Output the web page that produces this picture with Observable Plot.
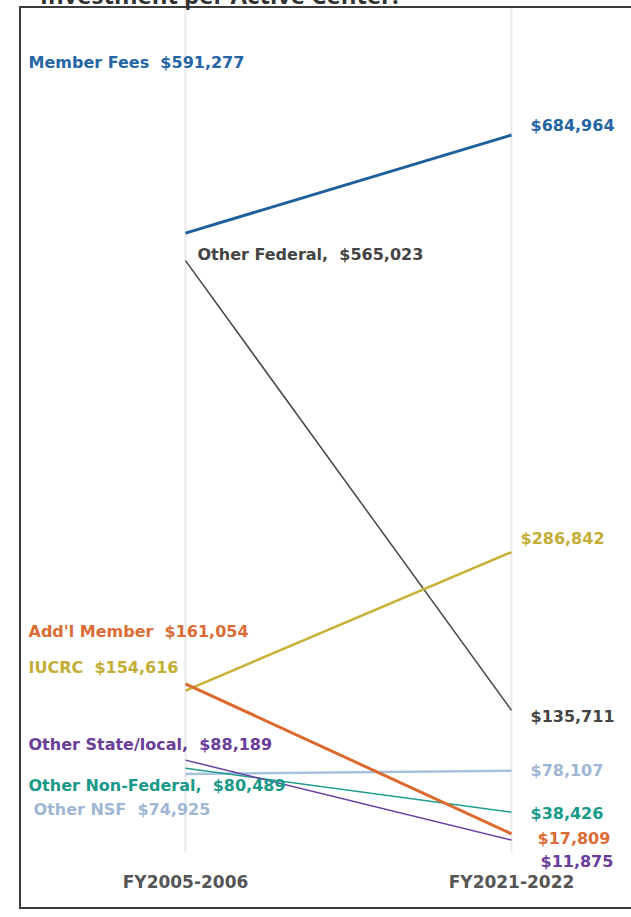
<!DOCTYPE html>
<html><head><meta charset="utf-8">
<script src="https://cdn.jsdelivr.net/npm/d3@7"></script>
<script src="https://cdn.jsdelivr.net/npm/@observablehq/plot@0.6"></script>
<style>
html,body{margin:0;padding:0;background:#fff;width:631px;height:917px;overflow:hidden;position:relative;}
#title{position:absolute;left:40px;top:-17px;font:700 24px/24px "Open Sans";color:#333;white-space:nowrap;}
#frame{position:absolute;left:19px;top:6px;width:700px;height:903px;border:2px solid #3c3c3c;box-sizing:border-box;}
#chart{position:absolute;left:0;top:0;}
</style></head><body>
<div id="frame"></div>
<div id="title">Investment per Active Center:</div>
<div id="chart"></div>
<script>
const periods = ["FY2005-2006", "FY2021-2022"];
const series = ["Other NSF", "Other Non-Federal", "Other State/local", "Other Federal", "IUCRC", "Add'l Member", "Member Fees"];
const startValues = [74925, 80489, 88189, 565023, 154616, 161054, 591277];
const endValues = [78107, 38426, 11875, 135711, 286842, 17809, 684964];
const startLabels = ["Other NSF  $74,925", "Other Non-Federal,  $80,489", "Other State/local,  $88,189", "Other Federal,  $565,023", "IUCRC  $154,616", "Add'l Member  $161,054", "Member Fees  $591,277"];
const endLabels = ["$78,107", "$38,426", "$11,875", "$135,711", "$286,842", "$17,809", "$684,964"];

// styling (kept apart from the data)
const colors = ["#a6c0de", "#1f9e8c", "#6b3fa0", "#444444", "#c9b037", "#dc6a2e", "#1f5f9e"];
const labelColors = ["#9fb7d4", "#19998a", "#6a3d9a", "#444444", "#c4ad35", "#dc6c35", "#2565a4"];
const widths = [2.5, 1.5, 1.5, 1.5, 2.5, 3, 3];
const leftNudge = [[-152, 36], [-157, 18], [-157, -15], [12, -6], [-157, -23], [-157, -52], [-157, -170]];
const rightNudge = [[19, 0], [19, 2], [29, 22], [19, 7], [9, -13], [26, 5], [19, -9]];

const idx = series.map((_, i) => i);
const font = "DejaVu Sans";

const marks = [
  Plot.ruleX(periods, {y1: 0, y2: 805000, stroke: "#e9e9e9", strokeWidth: 2}),
  Plot.axisX({tickSize: 0, tickPadding: 3, fontSize: 17, fontWeight: "bold", fill: "#555", label: null, fontFamily: font}),
  Plot.link(idx, {
    x1: () => periods[0], x2: () => periods[1],
    y1: i => startValues[i], y2: i => endValues[i],
    stroke: i => colors[i], strokeWidth: i => widths[i]
  })
];
idx.forEach(i => {
  marks.push(Plot.text([i], {
    x: () => periods[0], y: () => startValues[i], text: () => startLabels[i],
    dx: leftNudge[i][0], dy: leftNudge[i][1], textAnchor: "start",
    fill: labelColors[i], fontSize: 16, fontWeight: "bold", fontFamily: font
  }));
  marks.push(Plot.text([i], {
    x: () => periods[1], y: () => endValues[i], text: () => endLabels[i],
    dx: rightNudge[i][0], dy: rightNudge[i][1], textAnchor: "start",
    fill: labelColors[i], fontSize: 16, fontWeight: "bold", fontFamily: font
  }));
});

const chart = Plot.plot({
  width: 631,
  height: 917,
  marginTop: 8,
  marginBottom: 45,
  marginLeft: 0,
  marginRight: 0,
  style: {fontFamily: font, background: "transparent", overflow: "visible"},
  x: {type: "point", domain: periods, range: [185, 511], padding: 0, axis: null},
  y: {domain: [0, 800000], range: [852, 14], axis: null},
  marks
});
document.getElementById("chart").appendChild(chart);
</script>
</body></html>
